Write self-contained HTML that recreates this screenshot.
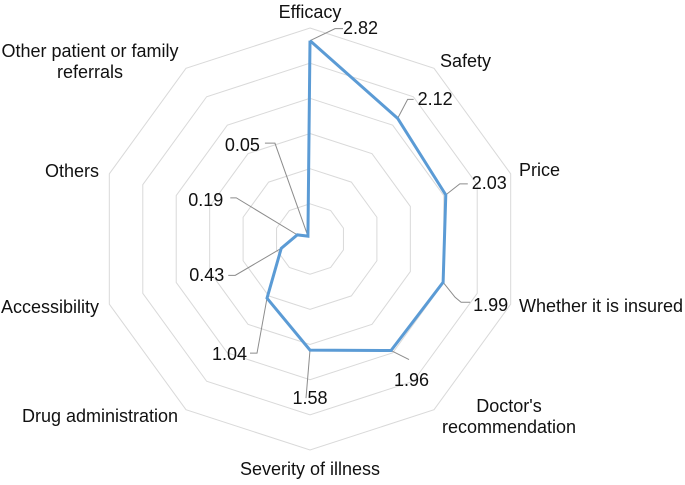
<!DOCTYPE html>
<html><head><meta charset="utf-8"><style>
body{margin:0;background:#fff}
svg text{font-family:"Liberation Sans",Arial,sans-serif;font-size:18px;fill:#111}
</style></head><body>
<svg id="chart" width="685" height="480" viewBox="0 0 685 480" xmlns="http://www.w3.org/2000/svg">
<g id="grid"></g>
<g id="leaders"></g>
<polyline id="series" fill="none" stroke="#5b9bd5" stroke-width="3" stroke-linejoin="miter"/>
<g id="labels"></g>
</svg>
<script>
const categories=["Efficacy","Safety","Price","Whether it is insured","Doctor's recommendation","Severity of illness","Drug administration","Accessibility","Others","Other patient or family referrals"];
const values=[2.82,2.12,2.03,1.99,1.96,1.58,1.04,0.43,0.19,0.05];
const valueLabels=["2.82","2.12","2.03","1.99","1.96","1.58","1.04","0.43","0.19","0.05"];
const ringTicks=[0.5,1,1.5,2,2.5,3];
const maxValue=3;
const cx=310,cy=239,R=211;
const N=categories.length;
const NS="http://www.w3.org/2000/svg";
function ang(i){return i*2*Math.PI/N;}
function pt(i,v){const r=v/maxValue*R;return [cx+Math.sin(ang(i))*r,cy-Math.cos(ang(i))*r];}
const grid=document.getElementById('grid');
ringTicks.forEach(t=>{
  const p=document.createElementNS(NS,'polygon');
  
  
  p.setAttribute('points',categories.map((c,i)=>pt(i,t).join(',')).join(' '));
  p.setAttribute('fill','none');p.setAttribute('stroke','#d9d9d9');p.setAttribute('stroke-width','1');
  grid.appendChild(p);
});
document.getElementById('series').setAttribute('points',values.map((v,i)=>pt(i,v).join(',')).concat([pt(0,values[0]).join(',')]).join(' '));
const vOff=[[33,-6,'start',34],[20,-17,'start',105],[26,-7,'start',189],[30,66,'start',311],[3,35,'start',386],[0,52,'middle',404],[-20,61,'end',360],[-57,32,'end',281],[-74,-37,'end',206],[-48,-86,'end',151]];
const leadPts=[[[25,-12],[33,-12]],[[10,-19],[16,-19]],[[14,-11],[22,-11]],[[12,15],[18,20],[27,20]],[[18,9]],[[-4,48]],[[-10,55],[-17,55]],[[-46,27],[-53,27]],[[-61,-37],[-67,-37]],[[-33,-93],[-43,-93]]];
const leaders=document.getElementById('leaders');
const labels=document.getElementById('labels');
values.forEach((v,i)=>{
  const [x,y]=pt(i,v);
  const pl=document.createElementNS(NS,'polyline');
  
  
  pl.setAttribute('points',[[x,y]].concat(leadPts[i].map(d=>[x+d[0],y+d[1]])).map(q=>q.join(',')).join(' '));
  pl.setAttribute('fill','none');pl.setAttribute('stroke','#8c8c8c');pl.setAttribute('stroke-width','1');
  leaders.appendChild(pl);
  const t=document.createElementNS(NS,'text');
  
  
  t.setAttribute('x',x+vOff[i][0]);t.setAttribute('y',vOff[i][3]);
  t.setAttribute('text-anchor',vOff[i][2]);
  t.textContent=valueLabels[i];
  labels.appendChild(t);
});
const catPos=[[310,[18],'middle'],[440,[67],'start'],[519,[176],'start'],[519,[312],'start'],[509,[412,433],'middle'],[310,[475],'middle'],[100,[422],'middle'],[99,[313],'end'],[99,[177],'end'],[90,[57,78],'middle']];
const catLines=[["Efficacy"],["Safety"],["Price"],["Whether it is insured"],["Doctor's","recommendation"],["Severity of illness"],["Drug administration"],["Accessibility"],["Others"],["Other patient or family","referrals"]];
categories.forEach((c,i)=>{
  const t=document.createElementNS(NS,'text');
  
  
  t.setAttribute('text-anchor',catPos[i][2]);
  catLines[i].forEach((ln,j)=>{
    const s=document.createElementNS(NS,'tspan');
    s.setAttribute('x',catPos[i][0]);s.setAttribute('y',catPos[i][1][j]);
    s.textContent=ln;t.appendChild(s);
  });
  labels.appendChild(t);
});
</script>
</body></html>
